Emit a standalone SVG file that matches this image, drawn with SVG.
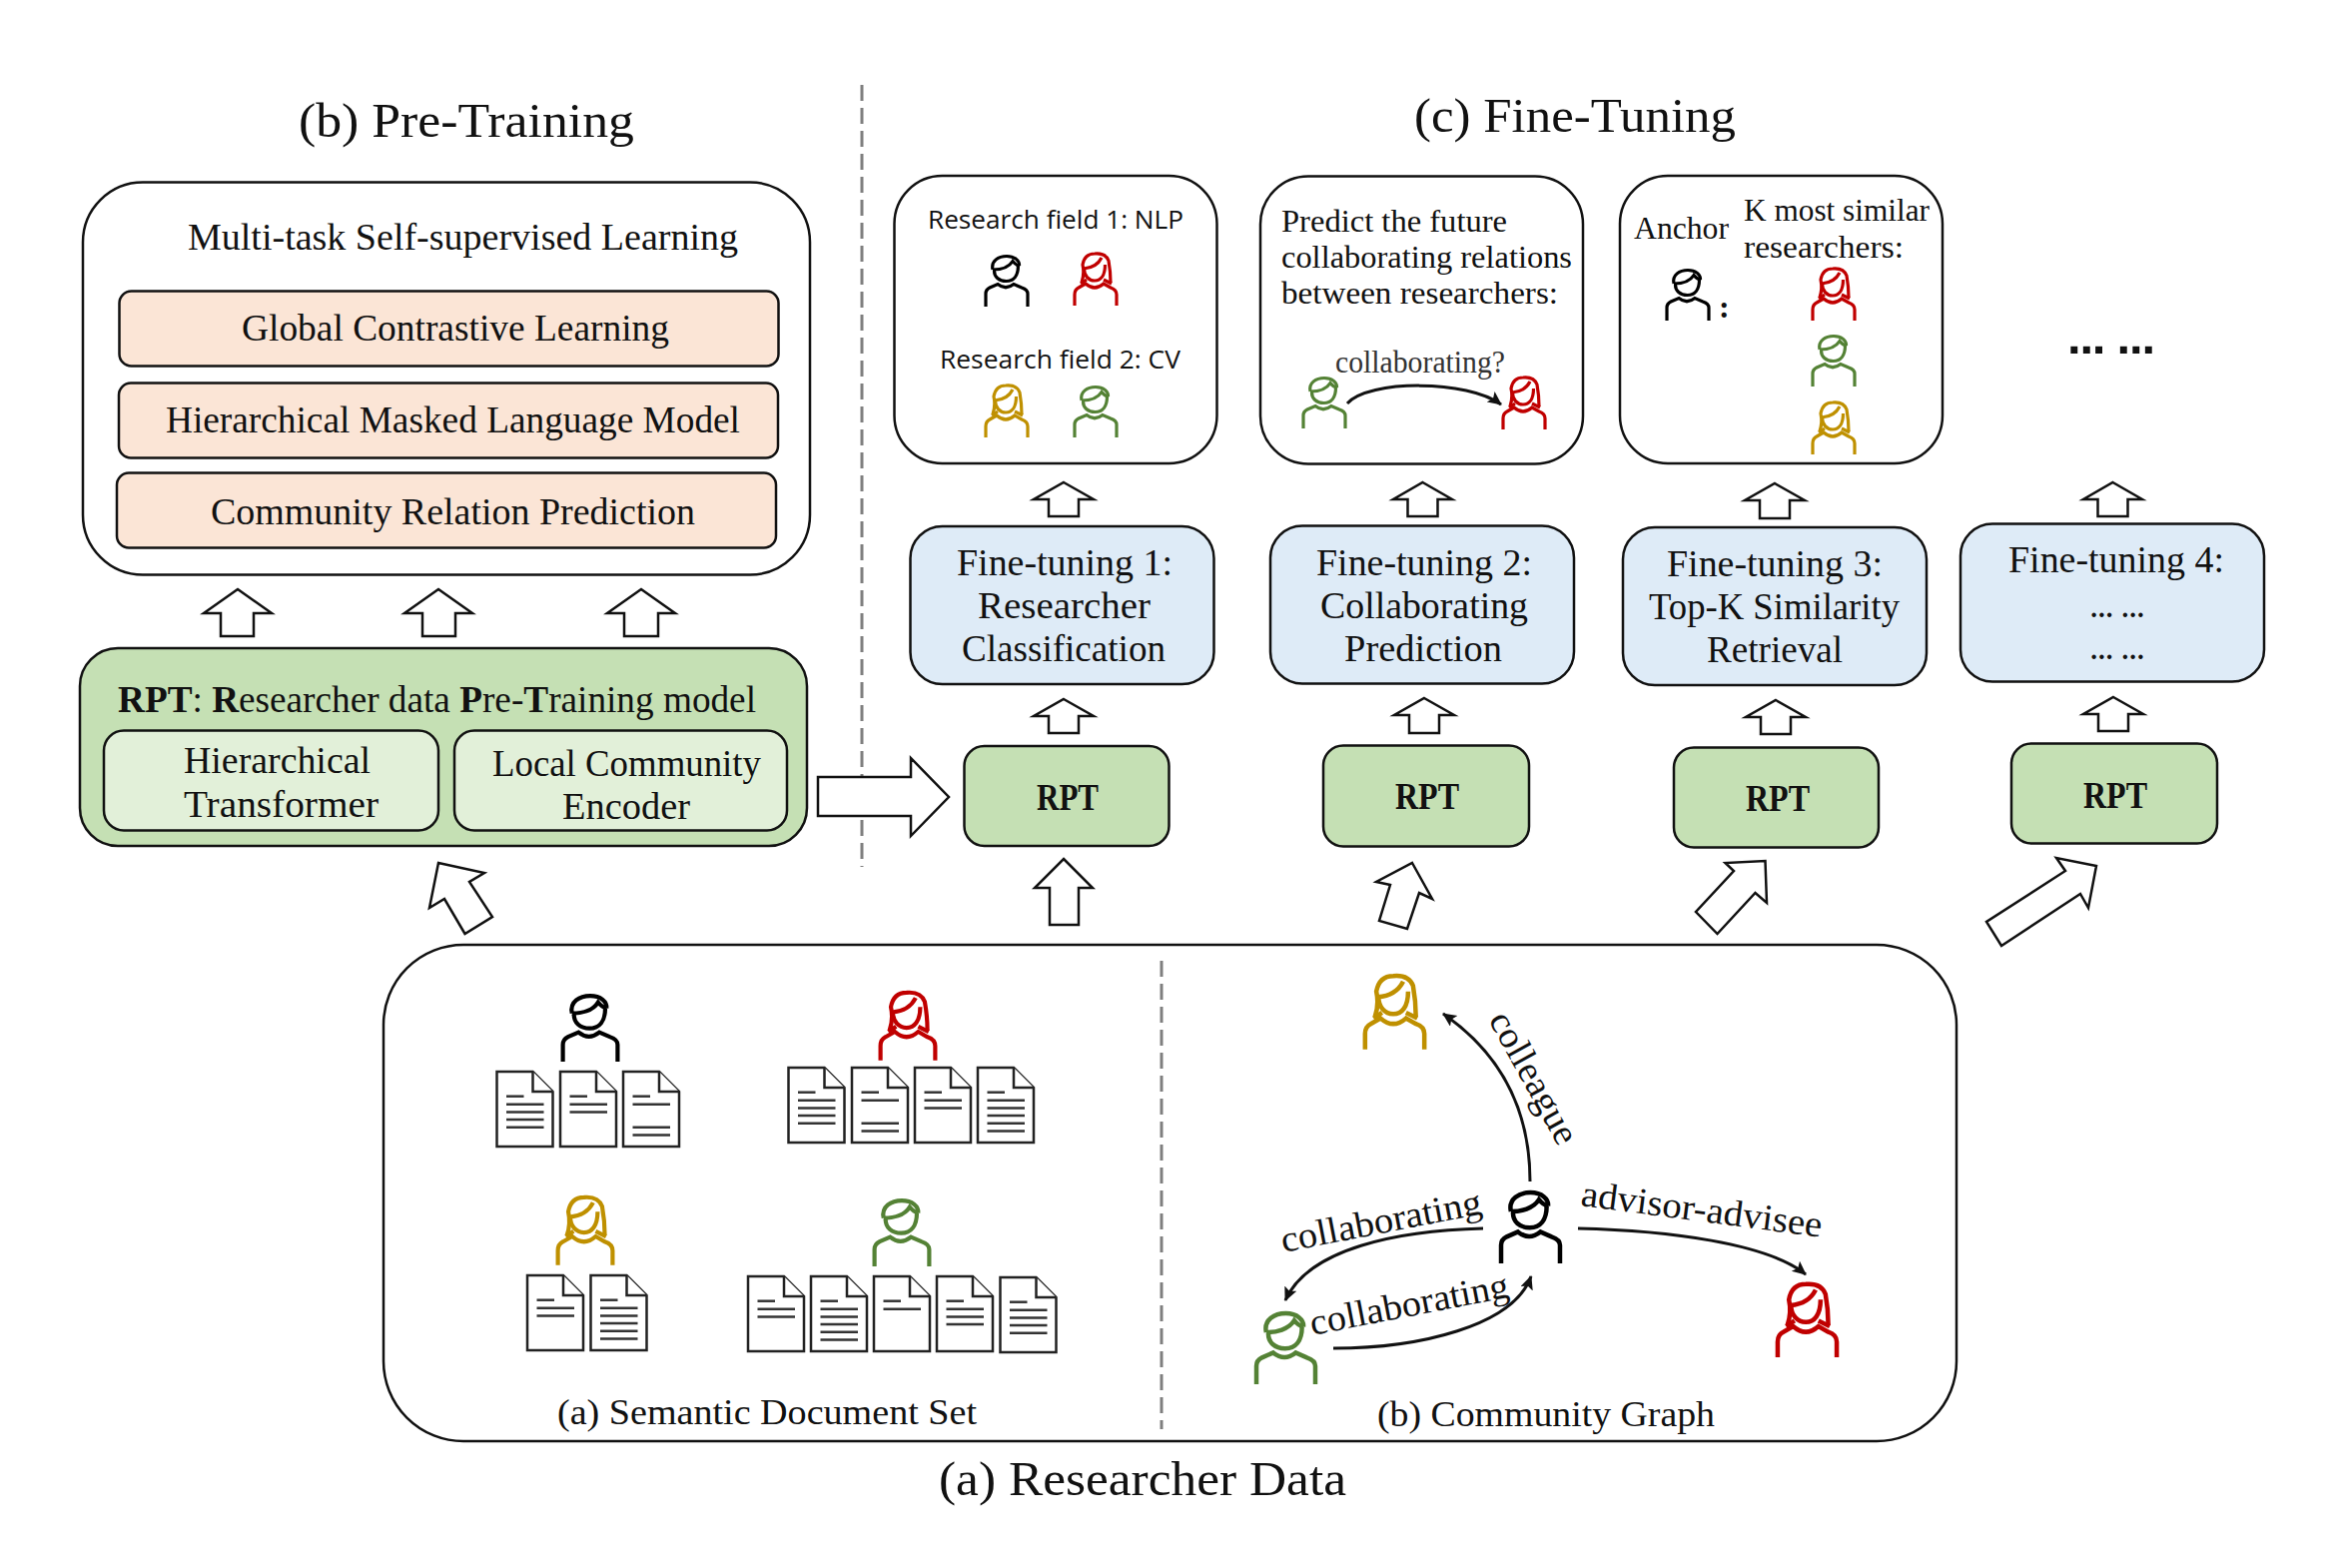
<svg xmlns="http://www.w3.org/2000/svg" xmlns:xlink="http://www.w3.org/1999/xlink" width="2350" height="1570" viewBox="0 0 2350 1570">
<style>
text{font-family:"Liberation Serif","Times New Roman",serif;fill:#111}
.t47{font-size:49px}.t35{font-size:37px}.t33{font-size:35px}.t30{font-size:32px}
.s{font-family:"Open Sans","Liberation Sans",sans-serif;font-size:25px}
.b{font-weight:700}
.box{stroke:#111;stroke-width:2.5}
.w{fill:#fff}.o{fill:#fbe5d6}.bl{fill:#deebf7}.g{fill:#c5e0b4}.lg{fill:#e2f0d9}
.ba{fill:#fff;stroke:#111;stroke-width:2.5;stroke-linejoin:miter}
.cv{fill:none;stroke:#111;stroke-width:3;marker-end:url(#head)}
.dash{stroke:#7f7f7f;stroke-width:3;stroke-dasharray:16 7;fill:none}
.pk{color:#000}.pr{color:#c00000}.py{color:#bf9000}.pg{color:#548235}
.ps{fill:none;stroke:currentColor;stroke-width:3.2}
.db{fill:#fff;stroke:#222;stroke-width:2.5}
.dl{stroke:#333;stroke-width:2.5}
</style>
<defs>
<marker id="head" markerUnits="userSpaceOnUse" markerWidth="16" markerHeight="14" refX="13" refY="6.5" orient="auto"><path d="M0 0L14 6.500L0 13L3 6.500Z" fill="#111"/></marker>
<symbol id="man" viewBox="0 0 46 52" overflow="visible"><g class="ps"><path d="M9 15C7 6 15 1.500 23 1.500C31 1.500 36 6 35.500 11"/><path d="M10.500 16C10.500 22 15 26.500 22.500 26.500C30 26.500 34.500 21 34.500 11"/><path d="M9 15C16 15 25 13 29 6.500C31 9 33 10.500 35.500 11"/><path d="M2 52V39Q2 35 6 33L14 29.500Q22 36 30 29.500L38 33Q44 35 44 39V52"/></g></symbol>
<symbol id="woman" viewBox="0 0 46 54" overflow="visible"><g class="ps"><path d="M9 31Q12 22 10 13Q12 2 22 2Q33 1 36 9Q38 20 38 31"/><path d="M11.500 17C11.500 24 16 29 22 29C28 29 32.500 24 32.500 13"/><path d="M11 17Q24 16 29 6"/><path d="M8 32L14 28M39 32L31 28"/><path d="M2 54V43Q2 38 6 36L13 32Q22 40 31 32L38 36Q44 38 44 43V54"/></g></symbol>
<g id="docbase"><path class="db" d="M0 0H36L56 20V75H0Z"/><path class="db" d="M36 0V20H56" fill="none"/><path class="dl" d="M9.500 24.700H27"/></g>
<symbol id="d1" viewBox="0 0 56 75" overflow="visible"><use href="#docbase"/><path class="dl" d="M9.500 32.700H47"/></symbol>
<symbol id="d2" viewBox="0 0 56 75" overflow="visible"><use href="#docbase"/><path class="dl" d="M9.500 32.700H47M9.500 40.400H47"/></symbol>
<symbol id="d3" viewBox="0 0 56 75" overflow="visible"><use href="#docbase"/><path class="dl" d="M9.500 32.700H47M9.500 40.400H47M9.500 48H47"/></symbol>
<symbol id="d4" viewBox="0 0 56 75" overflow="visible"><use href="#docbase"/><path class="dl" d="M9.500 32.700H47M9.500 40.400H47M9.500 48H47M9.500 55.700H47"/></symbol>
<symbol id="d5" viewBox="0 0 56 75" overflow="visible"><use href="#docbase"/><path class="dl" d="M9.500 32.700H47M9.500 40.400H47M9.500 48H47M9.500 55.700H47M9.500 63.400H47"/></symbol>
<symbol id="dg" viewBox="0 0 56 75" overflow="visible"><use href="#docbase"/><path class="dl" d="M9.500 32.700H47M9.500 55.700H47M9.500 63.400H47"/></symbol>
</defs>
<rect width="2350" height="1570" fill="#fff"/>

<text id="title-b" class="t47" x="299" y="137" textLength="336" lengthAdjust="spacingAndGlyphs">(b) Pre-Training</text>
<text id="title-c" class="t47" x="1416" y="132" textLength="322" lengthAdjust="spacingAndGlyphs">(c) Fine-Tuning</text>
<text id="title-a" class="t47" x="940" y="1497" textLength="408" lengthAdjust="spacingAndGlyphs">(a) Researcher Data</text>
<path class="dash" d="M863 85V868"/>

<g id="multitask"><rect class="box w" x="83" y="182.500" width="728" height="393" rx="60"/>
<text class="t35" x="188" y="250" textLength="551" lengthAdjust="spacingAndGlyphs">Multi-task Self-supervised Learning</text></g>
<g id="task-global"><rect class="box o" x="119.500" y="291.500" width="660" height="75" rx="12"/>
<text class="t35" x="242" y="341" textLength="428" lengthAdjust="spacingAndGlyphs">Global Contrastive Learning</text></g>
<g id="task-mlm"><rect class="box o" x="119" y="383.500" width="660" height="75" rx="12"/>
<text class="t35" x="166" y="433" textLength="575" lengthAdjust="spacingAndGlyphs">Hierarchical Masked Language Model</text></g>
<g id="task-crp"><rect class="box o" x="117" y="473.500" width="660" height="75" rx="12"/>
<text class="t35" x="211" y="525" textLength="485" lengthAdjust="spacingAndGlyphs">Community Relation Prediction</text></g>

<g id="rpt-main"><rect class="box g" x="80" y="649" width="728" height="198" rx="38"/>
<text class="t35" x="118" y="713" textLength="639" lengthAdjust="spacingAndGlyphs"><tspan class="b">RPT</tspan>: <tspan class="b">R</tspan>esearcher data <tspan class="b">P</tspan>re-<tspan class="b">T</tspan>raining model</text></g>
<g id="rpt-transformer"><rect class="box lg" x="104" y="731.500" width="335" height="100" rx="20"/>
<text class="t35" x="184" y="774" textLength="187" lengthAdjust="spacingAndGlyphs">Hierarchical</text>
<text class="t35" x="184" y="818" textLength="195" lengthAdjust="spacingAndGlyphs">Transformer</text></g>
<g id="rpt-encoder"><rect class="box lg" x="455" y="731.500" width="333" height="100" rx="20"/>
<text class="t35" x="493" y="777" textLength="269" lengthAdjust="spacingAndGlyphs">Local Community</text>
<text class="t35" x="563" y="820" textLength="128" lengthAdjust="spacingAndGlyphs">Encoder</text></g>

<g id="ft1-result"><rect class="box w" x="895.500" y="176" width="323" height="288" rx="48"/>
<text class="s" x="929" y="229" textLength="256" lengthAdjust="spacingAndGlyphs">Research field 1: NLP</text>
<text class="s" x="941" y="369" textLength="241" lengthAdjust="spacingAndGlyphs">Research field 2: CV</text>
<use href="#man" class="pk" x="985" y="255" width="46" height="52"/>
<use href="#woman" class="pr" x="1074" y="252" width="46" height="54"/>
<use href="#woman" class="py" x="985" y="384" width="46" height="54"/>
<use href="#man" class="pg" x="1074" y="386" width="46" height="52"/></g>
<g id="ft2-result"><rect class="box w" x="1262" y="176.500" width="323" height="288" rx="48"/>
<text class="t30" x="1283" y="232" textLength="226" lengthAdjust="spacingAndGlyphs">Predict the future</text>
<text class="t30" x="1283" y="268" textLength="291" lengthAdjust="spacingAndGlyphs">collaborating relations</text>
<text class="t30" x="1283" y="304" textLength="277" lengthAdjust="spacingAndGlyphs">between researchers:</text>
<text class="t30" x="1337" y="373" textLength="170" lengthAdjust="spacingAndGlyphs" style="fill:#333">collaborating?</text>
<use href="#man" class="pg" x="1303" y="377" width="46" height="52"/>
<use href="#woman" class="pr" x="1503" y="376" width="46" height="54"/></g>
<g id="ft3-result"><rect class="box w" x="1622" y="176" width="323" height="288" rx="48"/>
<text class="t30" x="1636" y="239" textLength="95" lengthAdjust="spacingAndGlyphs">Anchor</text>
<text class="t30" x="1746" y="221" textLength="186" lengthAdjust="spacingAndGlyphs">K most similar</text>
<text class="t30" x="1746" y="258" textLength="160" lengthAdjust="spacingAndGlyphs">researchers:</text>
<text class="t30 b" x="1721" y="318">:</text>
<use href="#man" class="pk" x="1667" y="269" width="46" height="52"/>
<use href="#woman" class="pr" x="1813" y="267" width="46" height="54"/>
<use href="#man" class="pg" x="1813" y="335" width="46" height="52"/>
<use href="#woman" class="py" x="1813" y="401" width="46" height="54"/></g>
<text id="ft4-result" class="t47 b" x="2070" y="354" textLength="88" lengthAdjust="spacing" style="font-family:'Liberation Sans',sans-serif">... ...</text>

<g id="ft1"><rect class="box bl" x="911.500" y="527" width="304" height="158" rx="32"/>
<text class="t35" x="958" y="576" textLength="216" lengthAdjust="spacingAndGlyphs">Fine-tuning 1:</text>
<text class="t35" x="979" y="619" textLength="173" lengthAdjust="spacingAndGlyphs">Researcher</text>
<text class="t35" x="963" y="662" textLength="204" lengthAdjust="spacingAndGlyphs">Classification</text></g>
<g id="ft2"><rect class="box bl" x="1272" y="526.500" width="304" height="158" rx="32"/>
<text class="t35" x="1318" y="576" textLength="216" lengthAdjust="spacingAndGlyphs">Fine-tuning 2:</text>
<text class="t35" x="1322" y="619" textLength="208" lengthAdjust="spacingAndGlyphs">Collaborating</text>
<text class="t35" x="1346" y="662" textLength="158" lengthAdjust="spacingAndGlyphs">Prediction</text></g>
<g id="ft3"><rect class="box bl" x="1625" y="528" width="304" height="158" rx="32"/>
<text class="t35" x="1669" y="577" textLength="216" lengthAdjust="spacingAndGlyphs">Fine-tuning 3:</text>
<text class="t35" x="1651" y="620" textLength="251" lengthAdjust="spacingAndGlyphs">Top-K Similarity</text>
<text class="t35" x="1709" y="663" textLength="136" lengthAdjust="spacingAndGlyphs">Retrieval</text></g>
<g id="ft4"><rect class="box bl" x="1963" y="524.500" width="304" height="158" rx="32"/>
<text class="t35" x="2011" y="573" textLength="216" lengthAdjust="spacingAndGlyphs">Fine-tuning 4:</text>
<text class="t35" x="2092" y="618" textLength="56" lengthAdjust="spacing">... ...</text>
<text class="t35" x="2092" y="660" textLength="56" lengthAdjust="spacing">... ...</text></g>

<g id="rpt1"><rect class="box g" x="965.500" y="747" width="205" height="100" rx="20"/><text class="t35 b" x="1038" y="811" textLength="62" lengthAdjust="spacingAndGlyphs">RPT</text></g>
<g id="rpt2"><rect class="box g" x="1325" y="746.500" width="206" height="101" rx="20"/><text class="t35 b" x="1397" y="810" textLength="64" lengthAdjust="spacingAndGlyphs">RPT</text></g>
<g id="rpt3"><rect class="box g" x="1676" y="748.500" width="205" height="100" rx="20"/><text class="t35 b" x="1748" y="812" textLength="64" lengthAdjust="spacingAndGlyphs">RPT</text></g>
<g id="rpt4"><rect class="box g" x="2014" y="744.500" width="206" height="100" rx="20"/><text class="t35 b" x="2086" y="809" textLength="64" lengthAdjust="spacingAndGlyphs">RPT</text></g>

<g id="researcher-data"><rect class="box w" x="384" y="946" width="1575" height="497" rx="80"/>
<path class="dash" d="M1163 962V1431"/>
<text class="t33" x="558" y="1426" textLength="420" lengthAdjust="spacingAndGlyphs">(a) Semantic Document Set</text>
<text class="t33" x="1379" y="1428" textLength="338" lengthAdjust="spacingAndGlyphs">(b) Community Graph</text></g>

<g id="doc-set-black"><use href="#man" class="pk" x="561" y="995" width="60" height="68"/>
<use href="#d4" x="497.500" y="1073" width="56" height="75"/><use href="#d2" x="561" y="1073" width="56" height="75"/><use href="#dg" x="624" y="1073" width="56" height="75"/></g>
<g id="doc-set-red"><use href="#woman" class="pr" x="879" y="991" width="60" height="71"/>
<use href="#d4" x="789.500" y="1069" width="56" height="75"/><use href="#dg" x="853" y="1069" width="56" height="75"/><use href="#d2" x="916" y="1069" width="56" height="75"/><use href="#d5" x="979" y="1069" width="56" height="75"/></g>
<g id="doc-set-yellow"><use href="#woman" class="py" x="556" y="1196" width="60" height="71"/>
<use href="#d2" x="528" y="1277" width="56" height="75"/><use href="#d5" x="591.500" y="1277" width="56" height="75"/></g>
<g id="doc-set-green"><use href="#man" class="pg" x="873" y="1200" width="60" height="68"/>
<use href="#d2" x="749" y="1278" width="56" height="75"/><use href="#d5" x="812" y="1278" width="56" height="75"/><use href="#d1" x="875" y="1278" width="56" height="75"/><use href="#d3" x="938" y="1278" width="56" height="75"/><use href="#d4" x="1001.500" y="1279" width="56" height="75"/></g>

<g id="cg-yellow"><use href="#woman" class="py" x="1364" y="974" width="65" height="77"/></g>
<g id="cg-black"><use href="#man" class="pk" x="1500" y="1192" width="65" height="73"/></g>
<g id="cg-green"><use href="#man" class="pg" x="1255" y="1313" width="65" height="73"/></g>
<g id="cg-red"><use href="#woman" class="pr" x="1777" y="1283" width="65" height="76"/></g>

<g id="connectors">
<polygon class="ba" points="238,590 272,614 254,614 254,637 221,637 221,614 204,614"/>
<polygon class="ba" points="439,590 473,614 456,614 456,637 423,637 423,614 405,614"/>
<polygon class="ba" points="642,590 676,614 659,614 659,637 625,637 625,614 608,614"/>
<polygon class="ba" points="819,778 912,778 912,759 950,798 912,837 912,817 819,817"/>
<polygon class="ba" points="439,864 485,874 470,883 493,918 465.500,935 445,900 430,909"/>
<polygon class="ba" points="1065,483 1095,500 1080,500 1080,517 1050,517 1050,500 1035,500"/>
<polygon class="ba" points="1424.500,483 1454,500 1439.500,500 1439.500,517 1409.500,517 1409.500,500 1395,500"/>
<polygon class="ba" points="1777,484 1807,501 1792,501 1792,519 1762,519 1762,501 1747,501"/>
<polygon class="ba" points="2115.500,483 2145,500 2130.500,500 2130.500,517 2100.500,517 2100.500,500 2086,500"/>
<polygon class="ba" points="1065,700 1095,717 1080,717 1080,734 1050,734 1050,717 1035,717"/>
<polygon class="ba" points="1426,699 1456,716 1441,716 1441,734 1411,734 1411,716 1396,716"/>
<polygon class="ba" points="1778,701 1808,718 1793,718 1793,735 1763,735 1763,718 1748,718"/>
<polygon class="ba" points="2116,698 2146,715 2131,715 2131,732 2101,732 2101,715 2086,715"/>
<polygon class="ba" points="1065,860 1094,889 1080,889 1080,926 1051,926 1051,889 1036,889"/>
<polygon class="ba" points="1414,864 1434,900 1421,894 1409,930 1381,922 1392,886 1378,883"/>
<polygon class="ba" points="1767.500,862 1769,904 1757.500,894 1719.500,935 1698,913 1736,872 1727.500,864"/>
<polygon class="ba" points="2099,867 2091,909 2083,895 2004,947 1989,923 2068,872 2059,859"/>
<path class="cv" d="M1349 404C1370 380 1470 380 1503 405"/>
<path class="cv" d="M1532 1183C1532 1120 1510 1060 1445 1015"/>
<path class="cv" d="M1485 1230C1400 1232 1310 1250 1287 1302"/>
<path class="cv" d="M1335 1350C1420 1350 1515 1328 1533 1278"/>
<path class="cv" d="M1580 1230C1670 1232 1770 1245 1808 1276"/>
<text class="t35" transform="translate(1490 1021) rotate(61)" textLength="146" lengthAdjust="spacingAndGlyphs">colleague</text>
<text class="t35" transform="translate(1285 1254) rotate(-11)" textLength="204" lengthAdjust="spacingAndGlyphs">collaborating</text>
<text class="t35" transform="translate(1314 1337) rotate(-11)" textLength="202" lengthAdjust="spacingAndGlyphs">collaborating</text>
<text class="t35" transform="translate(1582 1207) rotate(7.500)" textLength="243" lengthAdjust="spacingAndGlyphs">advisor-advisee</text>
</g>
</svg>
